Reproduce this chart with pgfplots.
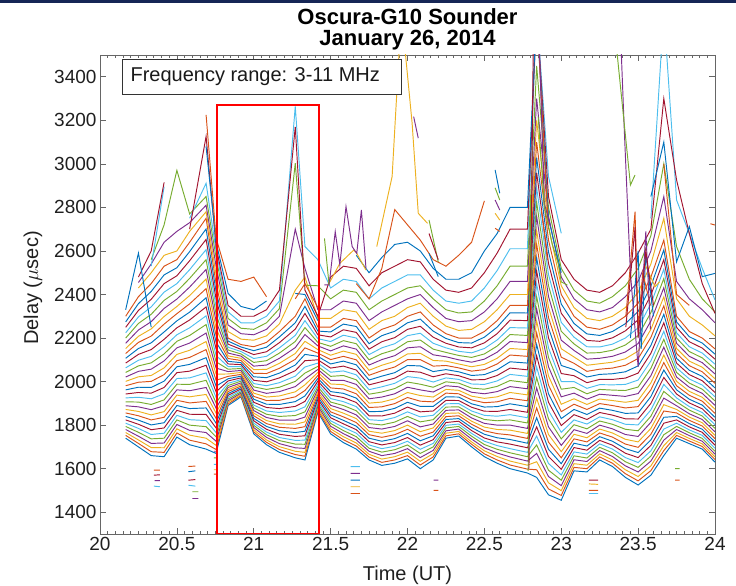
\documentclass[border=0pt]{standalone}
\usepackage{fontspec}
\setmainfont{Liberation Sans}
\usepackage{pgfplots}
\pgfplotsset{compat=1.18}
\usepackage{pgfplotstable}
\definecolor{c1}{rgb}{0,0.447,0.741}
\definecolor{c2}{rgb}{0.85,0.325,0.098}
\definecolor{c3}{rgb}{0.929,0.694,0.125}
\definecolor{c4}{rgb}{0.494,0.184,0.556}
\definecolor{c5}{rgb}{0.466,0.674,0.188}
\definecolor{c6}{rgb}{0.301,0.745,0.933}
\definecolor{c7}{rgb}{0.635,0.078,0.184}
\pgfplotscreateplotcyclelist{matlab}{{c1},{c2},{c3},{c4},{c5},{c6},{c7}}

\pgfplotstableread{
x y1 y2 y3 y4 y5 y6 y7 y8 y9 y10 y11 y12 y13 y14 y15 y16 y17 y18 y19 y20 y21 y22 y23 y24 y25 y26 y27 y28 y29 y30 y31 y32 y33 y34 y35 y36 y37
20.167 1740 1753 1766 1780 1794 1809 1824 1840 1856 1872 1889 1907 1925 1943 1962 1981 2001 2021 2042 2063 2085 2107 2129 2152 2176 2200 2224 2249 2274 2300 nan nan nan nan nan 2330 nan
20.25 1700 1716 1732 1749 1767 1785 1804 1823 1843 1863 1884 1906 1928 1950 1974 1997 2022 2047 2072 2098 2125 2152 2180 2208 2237 2267 2297 2327 2358 2390 2430 2455 nan nan 2480 2590 nan
20.333 1660 1678 1697 1716 1737 1757 1779 1801 1824 1847 1871 1895 1921 1947 1973 2001 2028 2057 2086 2116 2147 2178 2209 2242 2275 2309 2343 2378 2414 2450 2500 2540 2560 2530 2600 2250 nan
20.417 1655 1675 1696 1718 1740 1763 1787 1811 1836 1862 1889 1916 1944 1973 2002 2032 2063 2095 2127 2160 2194 2228 2264 2299 2336 2373 2411 2450 2490 2530 2580 2640 2720 2895 2915 nan nan
20.5 1745 1764 1783 1803 1824 1845 1868 1890 1914 1938 1962 1988 2014 2041 2068 2096 2125 2155 2185 2215 2247 2279 2312 2345 2379 2414 2450 2486 2523 2560 2600 2690 2970 nan nan nan nan
20.583 1710 1731 1754 1776 1800 1825 1850 1876 1902 1930 1958 1987 2017 2048 2079 2111 2144 2177 2212 2247 2283 2319 2357 2395 2434 2474 2514 2555 2597 2640 2690 2730 2770 2750 2700 nan nan
20.69 1690 1714 1740 1766 1793 1821 1849 1879 1909 1941 1973 2006 2040 2075 2110 2147 2184 2223 2262 2302 2343 2385 2427 2471 2515 2560 2606 2653 2701 2750 2780 2810 2850 2911 3126 3080 3225
20.755 1670 1688 1707 1726 1746 1766 1787 1809 1831 1855 1878 1902 1927 1953 1979 2006 2034 2062 2091 2120 2150 2181 2212 2245 2277 2310 2344 2379 2414 2450 2490 2530 2570 2600 2620 2640 2660
20.833 1890 1897 1905 1912 1920 1928 1937 1945 1954 1963 1973 1982 1992 2003 2013 2024 2035 2046 2057 2069 2081 2093 2106 2118 2131 2145 2158 2172 2186 2200 2230 2260 2290 2320 2350 2405 2470
20.917 1930 1936 1941 1947 1953 1960 1966 1973 1980 1987 1994 2002 2009 2017 2025 2033 2042 2051 2060 2069 2078 2087 2097 2107 2117 2127 2138 2148 2159 2170 2195 2220 2245 2270 2300 2345 2460
21.0 1760 1769 1779 1789 1799 1809 1820 1831 1843 1855 1867 1879 1892 1905 1919 1932 1947 1961 1976 1991 2006 2022 2038 2055 2071 2088 2106 2124 2142 2160 2190 2215 2240 2270 2300 2330 2480
21.083 1710 1721 1732 1744 1756 1768 1781 1794 1807 1821 1835 1850 1865 1881 1896 1913 1929 1946 1964 1981 1999 2018 2037 2056 2076 2096 2116 2137 2158 2180 2210 2240 2270 2300 2330 2370 2390
21.167 1675 1688 1701 1715 1729 1743 1758 1774 1790 1806 1823 1840 1858 1876 1895 1914 1934 1954 1974 1995 2017 2039 2061 2084 2107 2131 2155 2179 2205 2230 2265 2300 2335 2370 2420 nan nan
21.27 1650 1665 1680 1696 1713 1730 1748 1766 1785 1804 1823 1844 1865 1886 1908 1930 1953 1977 2001 2025 2050 2076 2102 2129 2156 2184 2212 2241 2270 2300 2420 2700 3003 3264 3170 2405 2380
21.333 1640 1657 1675 1693 1712 1731 1751 1772 1793 1815 1837 1861 1884 1909 1934 1959 1985 2012 2039 2067 2096 2125 2155 2185 2216 2248 2280 2313 2346 2380 2480 2520 2443 2620 2420 2400 2450
21.417 1860 1869 1878 1888 1898 1908 1919 1930 1941 1952 1964 1976 1989 2002 2015 2028 2042 2056 2070 2085 2100 2116 2131 2147 2164 2180 2197 2215 2232 2250 2290 2330 2440 2560 2300 2280 2340
21.5 1760 1771 1783 1795 1808 1820 1834 1847 1861 1876 1891 1906 1922 1938 1954 1971 1989 2006 2024 2043 2062 2081 2101 2121 2141 2162 2184 2205 2228 2250 2290 2330 2380 2430 2480 nan nan
21.583 1720 1733 1747 1761 1775 1790 1806 1822 1838 1855 1872 1890 1908 1927 1946 1966 1986 2006 2028 2049 2071 2094 2116 2140 2164 2188 2213 2238 2264 2290 2330 2370 2420 2470 2530 nan nan
21.667 1690 1704 1718 1732 1747 1763 1779 1795 1812 1830 1847 1866 1885 1904 1924 1944 1965 1987 2008 2031 2053 2077 2100 2125 2149 2174 2200 2226 2253 2280 2320 2360 2410 2460 2520 2580 2450
21.75 1640 1653 1666 1680 1694 1709 1724 1740 1756 1772 1789 1807 1825 1843 1862 1881 1901 1921 1942 1963 1985 2007 2029 2052 2076 2100 2124 2149 2174 2200 2240 2280 2330 2380 2440 2500 2380
21.833 1615 1629 1644 1660 1676 1692 1709 1726 1744 1763 1782 1801 1821 1842 1863 1884 1906 1929 1952 1976 2000 2025 2050 2075 2101 2128 2155 2183 2211 2240 2280 2320 2370 2430 2500 2570 2520
21.917 1625 1640 1655 1670 1687 1703 1720 1738 1756 1775 1794 1814 1835 1855 1877 1899 1921 1944 1968 1992 2016 2041 2067 2093 2119 2146 2174 2202 2231 2260 2300 2350 2400 2460 2530 2630 2790
22.0 1645 1660 1676 1692 1709 1726 1743 1762 1781 1800 1820 1840 1861 1883 1905 1927 1950 1974 1998 2023 2048 2074 2101 2127 2155 2183 2211 2240 2270 2300 2340 2380 2430 2490 2560 2640 2720
22.083 1600 1617 1634 1651 1670 1689 1708 1728 1749 1770 1792 1815 1838 1861 1886 1910 1936 1962 1988 2016 2043 2072 2101 2130 2160 2191 2222 2254 2287 2320 2360 2400 2440 2490 2550 2600 2650
22.167 1640 1654 1669 1684 1700 1716 1733 1751 1768 1787 1805 1825 1845 1865 1886 1907 1929 1952 1974 1998 2022 2046 2071 2097 2123 2149 2176 2204 2232 2260 2300 2340 2380 2420 2470 2520 2560
22.25 1740 1751 1763 1774 1787 1799 1812 1826 1839 1854 1868 1883 1898 1914 1930 1947 1964 1981 1999 2017 2036 2055 2074 2094 2114 2134 2155 2176 2198 2220 2255 2290 2330 2370 2420 2470 2530
22.333 1750 1760 1771 1782 1794 1805 1818 1830 1843 1856 1870 1884 1899 1913 1929 1944 1960 1976 1993 2010 2027 2045 2063 2081 2100 2120 2139 2159 2179 2200 2235 2275 2315 2360 2410 2470 2580
22.417 1700 1712 1723 1736 1749 1762 1775 1789 1804 1818 1833 1849 1865 1882 1898 1916 1933 1951 1970 1989 2008 2028 2048 2068 2089 2111 2132 2155 2177 2200 2240 2280 2320 2370 2430 2500 2640
22.5 1655 1668 1682 1696 1711 1726 1741 1758 1774 1791 1808 1826 1845 1864 1883 1903 1923 1944 1965 1987 2009 2032 2055 2079 2103 2127 2152 2178 2204 2230 2275 2320 2370 2430 2500 2600 2830
22.583 1625 1640 1656 1672 1689 1706 1723 1742 1761 1780 1800 1820 1841 1863 1885 1907 1930 1954 1978 2003 2028 2054 2081 2107 2135 2163 2191 2220 2250 2280 2330 2380 2440 2510 2590 2680 nan
22.667 1600 1617 1635 1654 1673 1692 1713 1734 1755 1777 1800 1824 1848 1872 1898 1923 1950 1977 2005 2033 2062 2091 2122 2152 2184 2216 2248 2282 2316 2350 2400 2460 2530 2610 2700 2800 nan
22.78 1580 1598 1616 1635 1655 1675 1696 1717 1739 1762 1785 1810 1834 1859 1885 1912 1939 1967 1995 2024 2054 2085 2116 2147 2179 2212 2246 2280 2315 2350 2400 2460 2530 2610 2700 2800 nan
22.84 1560 1595 1632 1670 1709 1750 1792 1834 1879 1924 1971 2019 2068 2119 2171 2224 2278 2334 2391 2449 2508 2569 2631 2694 2759 2824 2891 2960 3029 3100 3200 3300 3450 3700 3700 3700 3700
22.917 1480 1507 1535 1564 1593 1624 1656 1689 1722 1757 1792 1829 1866 1905 1944 1984 2026 2068 2111 2155 2201 2247 2294 2342 2391 2441 2492 2543 2596 2650 2711 2760 2800 2942 2850 2750 2700
23.0 1455 1477 1499 1522 1547 1571 1597 1623 1650 1678 1707 1737 1767 1798 1830 1862 1896 1930 1965 2000 2037 2074 2112 2151 2190 2231 2272 2314 2356 2400 2440 2480 2520 2681 2560 2500 nan
23.083 1590 1606 1623 1641 1659 1677 1697 1717 1737 1758 1779 1802 1824 1848 1872 1896 1921 1947 1973 2000 2027 2055 2084 2113 2143 2173 2204 2235 2267 2300 2340 2380 2420 nan 2470 nan nan
23.167 1585 1600 1616 1633 1649 1667 1685 1704 1723 1742 1762 1783 1805 1826 1849 1872 1895 1919 1944 1969 1995 2021 2047 2075 2103 2131 2160 2189 2219 2250 2290 2330 2370 nan 2420 nan nan
23.25 1640 1654 1668 1683 1698 1714 1730 1747 1764 1782 1800 1819 1838 1858 1878 1899 1920 1942 1964 1986 2010 2033 2057 2082 2107 2133 2159 2185 2212 2240 2280 2320 2360 nan 2410 nan nan
23.333 1610 1625 1640 1656 1673 1690 1708 1726 1745 1764 1783 1804 1825 1846 1868 1890 1913 1937 1961 1985 2010 2036 2062 2089 2116 2144 2172 2201 2230 2260 2300 2340 2390 nan 2440 nan nan
23.417 1560 1577 1595 1613 1632 1651 1671 1692 1713 1735 1757 1781 1804 1829 1854 1879 1905 1932 1959 1987 2016 2045 2075 2105 2136 2168 2200 2233 2266 2300 2340 2390 2440 nan 2500 nan nan
23.5 1525 1544 1564 1585 1606 1628 1651 1674 1698 1723 1748 1774 1801 1828 1856 1885 1914 1945 1975 2007 2039 2072 2106 2140 2175 2211 2247 2284 2322 2360 2410 2460 2520 nan 2590 nan nan
23.583 1570 1591 1613 1635 1658 1682 1707 1732 1758 1785 1813 1841 1870 1900 1931 1962 1994 2027 2061 2095 2130 2166 2203 2240 2278 2317 2357 2397 2438 2480 2540 2600 2670 2750 2700 2850 nan
23.667 1660 1683 1706 1731 1756 1782 1809 1836 1865 1894 1924 1955 1987 2019 2053 2087 2122 2158 2194 2231 2270 2309 2348 2389 2431 2473 2516 2560 2605 2650 2750 2850 3000 3700 3300 3100 3000
23.75 1740 1753 1766 1780 1794 1809 1824 1840 1856 1872 1889 1907 1925 1943 1962 1981 2001 2021 2042 2063 2085 2107 2129 2152 2176 2200 2224 2249 2274 2300 2380 2460 2620 2834 2926 2550 2400
23.833 1715 1727 1739 1752 1765 1778 1792 1807 1822 1837 1852 1869 1885 1902 1919 1937 1955 1974 1993 2012 2032 2052 2073 2094 2116 2138 2160 2183 2206 2230 2300 2380 2470 2680 2680 2712 2350
23.917 1690 1702 1714 1726 1739 1753 1767 1781 1796 1811 1826 1842 1858 1875 1892 1910 1928 1946 1965 1984 2004 2024 2045 2066 2087 2109 2131 2154 2177 2200 2260 2330 2380 2520 2450 2482 nan
24.0 1630 1642 1654 1667 1680 1694 1708 1723 1738 1753 1769 1785 1802 1819 1836 1854 1873 1891 1911 1930 1950 1971 1992 2013 2035 2057 2080 2103 2126 2150 2210 2270 2320 2375 2313 2497 nan
}\data

\begin{document}
\begin{tikzpicture}[x=1pt,y=1pt]
\useasboundingbox (0,0) rectangle (736,586);
\fill[color={rgb,255:red,22;green,38;blue,86}] (0,583) rectangle (736,586);
\begin{axis}[
  at={(100pt,52pt)}, anchor=south west, scale only axis,
  width=615pt, height=479pt,
  xmin=20, xmax=24, ymin=1300, ymax=3500,
  xtick={20,20.5,21,21.5,22,22.5,23,23.5,24},
  xticklabels={20,20.5,21,21.5,22,22.5,23,23.5,24},
  minor x tick num=9,
  ytick={1400,1600,1800,2000,2200,2400,2600,2800,3000,3200,3400},
  yticklabels={1400,1600,1800,2000,2200,2400,2600,2800,3000,3200,3400},
  tick align=inside, major tick length=6pt, minor tick length=3pt,
  axis line style={black!60, line width=0.8pt},
  every tick/.style={black!60, line width=0.7pt},
  tick label style={font=\fontsize{19}{22}\selectfont, text=black!88},
  unbounded coords=jump,
  cycle list name=matlab,
  clip=true,
]
\pgfplotsinvokeforeach{1,...,37}{\addplot+[no markers, line width=0.95pt] table[x=x, y=y#1]{\data};}
% extra fragments
\addplot[c1, line width=0.95pt] coordinates {(22.14,2589)(22.2,2482)(22.21,nan)(22.57,2972)(22.6,2865)(22.61,nan)(23.45,2200)(23.5,2600)(23.52,2150)(23.55,2590)(23.6,2300)(23.61,nan)(20.575,1586)(20.62,1590)(20.63,nan)(21.63,1547)(21.69,1547)};
\addplot[c2, line width=0.95pt] coordinates {(22.57,2704)(22.6,2690)(22.61,nan)(22.87,2788)(22.89,2681)(22.91,2558)(22.92,nan)(23.42,2300)(23.48,2780)(23.5,2240)(23.53,2500)(23.58,2350)(23.59,nan)(23.97,2725)(24.0,2719)(24.01,nan)(20.35,1593)(20.39,1593)(20.4,nan)(20.575,1610)(20.62,1612)(20.63,nan)(20.74,1575)(20.76,1575)(20.77,nan)(21.63,1486)(21.69,1486)(21.7,nan)(22.17,1500)(22.2,1500)(22.21,nan)(23.18,1500)(23.24,1500)(23.25,nan)(23.74,1547)(23.77,1547)};
\addplot[c3, line width=0.95pt] coordinates {(21.49,2451)(21.56,2543)(21.65,2604)(21.67,2589)(21.73,2512)(21.74,nan)(21.8,2620)(21.9,2942)(21.96,3700)(22.03,3187)(22.07,2773)(22.13,2727)(22.14,nan)(22.57,2773)(22.6,2742)(22.61,nan)(23.55,2530)(23.61,2436)(23.64,2459)(23.65,nan)(20.74,1595)(20.76,1595)(20.77,nan)(21.63,1517)(21.69,1517)(21.7,nan)(23.18,1530)(23.24,1528)};
\addplot[c4, line width=0.95pt] coordinates {(21.46,2444)(21.49,2444)(21.53,2689)(21.56,2536)(21.6,2804)(21.64,2620)(21.67,2589)(21.7,2788)(21.73,2520)(21.74,nan)(22.04,3217)(22.07,3118)(22.08,nan)(22.57,2834)(22.6,2788)(22.61,nan)(22.85,3700)(22.89,2819)(22.93,2711)(22.94,nan)(23.38,3700)(23.41,3156)(23.45,2497)(23.5,2068)(23.55,2690)(23.58,2240)(23.59,nan)(20.355,1545)(20.39,1545)(20.4,nan)(20.6,1463)(20.64,1463)(20.65,nan)(20.74,1680)(20.76,1680)(20.77,nan)(21.63,1578)(21.69,1578)(21.7,nan)(22.17,1547)(22.2,1547)};
\addplot[c5, line width=0.95pt] coordinates {(21.46,2658)(21.49,2444)(21.5,nan)(22.14,2742)(22.2,2550)(22.21,nan)(22.57,2890)(22.6,2834)(22.61,nan)(22.785,1590)(22.8,2830)(22.81,2344)(22.82,nan)(22.85,3217)(22.89,2803)(22.94,2635)(22.98,2543)(23.0,2458)(23.04,2443)(23.05,nan)(23.35,3600)(23.45,2903)(23.48,2949)(23.49,nan)(20.6,1494)(20.64,1494)(20.65,nan)(20.74,1650)(20.76,1650)(20.77,nan)(23.74,1600)(23.77,1600)};
\addplot[c6, line width=0.95pt] coordinates {(20.35,1520)(20.39,1517)(20.4,nan)(20.575,1524)(20.62,1520)(20.63,nan)(20.74,1620)(20.76,1620)(20.77,nan)(21.63,1609)(21.69,1609)(21.7,nan)(23.18,1486)(23.24,1486)};
\addplot[c7, line width=0.95pt] coordinates {(22.14,2680)(22.2,2560)(22.21,nan)(22.79,1600)(22.82,3700)(22.83,nan)(23.42,2250)(23.48,2710)(23.5,2200)(23.55,2600)(23.6,2350)(23.61,nan)(20.35,1570)(20.39,1572)(20.4,nan)(20.575,1547)(20.62,1550)(20.63,nan)(23.18,1547)(23.24,1547)};
\draw[red, line width=1.6pt] (axis cs:20.76,1300) rectangle (axis cs:21.425,3270);
\end{axis}
\draw[black!80, line width=0.8pt, fill=white] (122,527) rectangle (401,492);
\node[anchor=west, font=\fontsize{20}{24}\selectfont, text=black!90] at (127,509.5) {Frequency range: 3-11 MHz};
\node[anchor=base, font=\fontsize{22}{26}\selectfont\bfseries] at (407.5,561) {Oscura-G10 Sounder};
\node[anchor=base, font=\fontsize{22}{26}\selectfont\bfseries] at (407.5,540) {January 26, 2014};
\node[font=\fontsize{20}{24}\selectfont, text=black!88] at (407.5,11) {Time (UT)};
\node[rotate=90, font=\fontsize{20}{24}\selectfont, text=black!88] at (33,298) {Delay ($\mu$sec)};
\end{tikzpicture}
\end{document}
